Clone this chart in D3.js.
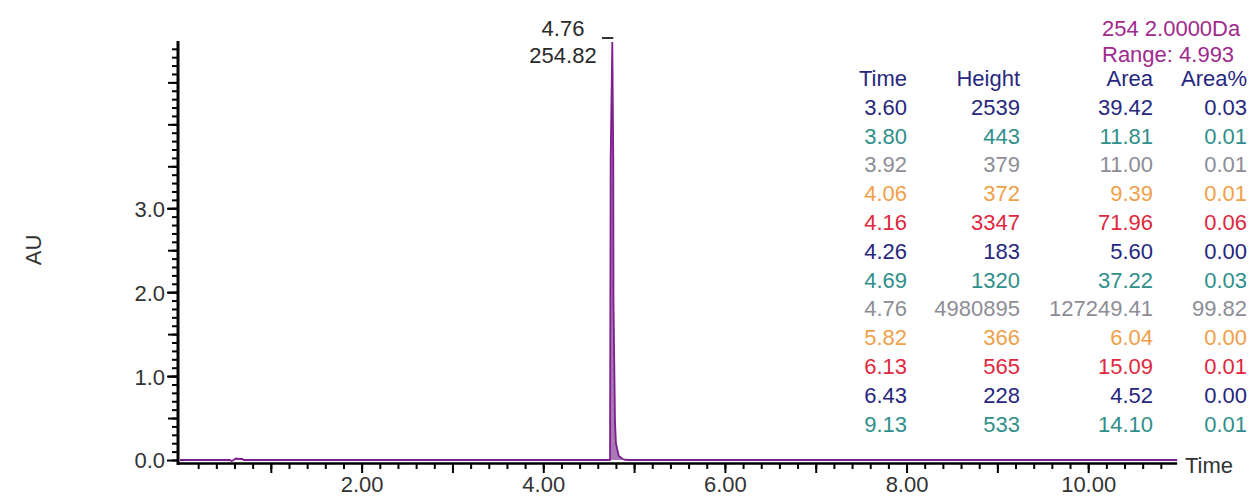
<!DOCTYPE html>
<html>
<head>
<meta charset="utf-8">
<script src="https://cdnjs.cloudflare.com/ajax/libs/d3/7.8.5/d3.min.js"></script>
<style>
  body { margin: 0; background: #fff; }
  svg text { font-family: Arial, "Liberation Sans", sans-serif; font-size: 22px; }
  .tick line { stroke: #000; stroke-width: 2; }
</style>
</head>
<body>
<div id="chart"></div>
<script>
// chromatogram trace (min, AU)
const traceTime = [0.00, 0.55, 0.57, 0.59, 0.615, 0.65, 0.69, 0.70, 4.70, 4.735, 4.742, 4.760, 4.771, 4.773, 4.790, 4.800, 4.830, 4.870, 4.900, 4.95, 10.98];
const traceAU   = [0.000, 0.000, -0.012, 0.000, 0.018, 0.014, 0.012, 0.000, 0.000, 0.002, 3.58, 4.98, 3.56, 1.90, 0.45, 0.20, 0.05, 0.015, 0.003, 0.000, 0.000];

// peak table
const peakTimes   = ['3.60', '3.80', '3.92', '4.06', '4.16', '4.26', '4.69', '4.76', '5.82', '6.13', '6.43', '9.13'];
const peakHeights = ['2539', '443', '379', '372', '3347', '183', '1320', '4980895', '366', '565', '228', '533'];
const peakAreas   = ['39.42', '11.81', '11.00', '9.39', '71.96', '5.60', '37.22', '127249.41', '6.04', '15.09', '4.52', '14.10'];
const peakAreaPct = ['0.03', '0.01', '0.01', '0.01', '0.06', '0.00', '0.03', '99.82', '0.00', '0.01', '0.00', '0.01'];
const tableHeader = ['Time', 'Height', 'Area', 'Area%'];
const rowColors   = ['#27277f', '#2f8f8b', '#8d8d96', '#f0a04a', '#e0283e'];

const channelInfo = ['254 2.0000Da', 'Range: 4.993'];
const apexLabel = ['4.76', '254.82'];

const yLabelTicks = [0, 1, 2, 3];
const xLabelTicks = [2, 4, 6, 8, 10];

const W = 1250, H = 499;
const svg = d3.select('#chart').append('svg')
    .attr('width', W)
    .attr('height', H);

const x = d3.scaleLinear().domain([0, 11]).range([180, 1179]);
const y = d3.scaleLinear().domain([0, 4.993]).range([460, 41]);

// y axis: minor, half and labelled ticks
const yMinor = d3.range(0, 4.95, 0.1).map(v => +v.toFixed(1));
const yHalf = d3.range(0.5, 5, 0.5);
svg.append('g').attr('transform', 'translate(177,0)')
    .call(d3.axisLeft(y).tickValues(yMinor).tickSize(5).tickFormat(''))
    .call(g => g.select('.domain').remove());
svg.append('g').attr('transform', 'translate(177,0)')
    .call(d3.axisLeft(y).tickValues(yHalf).tickSize(9).tickFormat(''))
    .call(g => g.select('.domain').remove());
svg.append('g').attr('transform', 'translate(177,0)')
    .call(d3.axisLeft(y).tickValues(yLabelTicks).tickSize(10).tickPadding(2).tickFormat(d3.format('.1f')))
    .call(g => g.select('.domain').remove())
    .call(g => g.selectAll('text').attr('fill', '#333').style('font-size', '22px').attr('dy', '0.36em'));

// x axis
const xMinor = d3.range(0.2, 11, 0.2).map(v => +v.toFixed(1));
const xMajor = d3.range(1, 11, 1);
svg.append('g').attr('transform', 'translate(0,464)')
    .call(d3.axisBottom(x).tickValues(xMinor).tickSize(5).tickFormat(''))
    .call(g => g.select('.domain').remove());
svg.append('g').attr('transform', 'translate(0,464)')
    .call(d3.axisBottom(x).tickValues(xMajor).tickSize(9).tickFormat(''))
    .call(g => g.select('.domain').remove());
svg.append('g').attr('transform', 'translate(0,464)')
    .call(d3.axisBottom(x).tickValues(xLabelTicks).tickSize(0).tickPadding(12).tickFormat(d3.format('.2f')))
    .call(g => g.select('.domain').remove())
    .call(g => g.selectAll('text').attr('fill', '#333').style('font-size', '22px'));

// axis lines
svg.append('line').attr('x1', 178).attr('x2', 178).attr('y1', 41).attr('y2', 465)
    .attr('stroke', '#000').attr('stroke-width', 3);
svg.append('line').attr('x1', 177).attr('x2', x(10.98)).attr('y1', 463.5).attr('y2', 463.5)
    .attr('stroke', '#000').attr('stroke-width', 2.5);

// trace
const pts = traceTime.map((t, i) => [t, traceAU[i]]);
svg.append('path')
    .datum(pts)
    .attr('fill', '#9a62a8')
    .attr('fill-opacity', 0.85)
    .attr('d', d3.area().x(d => x(d[0])).y0(y(0)).y1(d => y(d[1])));
svg.append('path')
    .datum(pts)
    .attr('fill', 'none')
    .attr('stroke', '#7d1f8c')
    .attr('stroke-width', 1.8)
    .attr('d', d3.line().x(d => x(d[0])).y(d => y(d[1])));

// apex marker and labels
svg.append('line').attr('x1', 602).attr('x2', x(4.76) + 1).attr('y1', 38).attr('y2', 38)
    .attr('stroke', '#333').attr('stroke-width', 2);
svg.selectAll('.apex').data(apexLabel).enter().append('text')
    .attr('x', 563)
    .attr('y', (d, i) => 36 + i * 27)
    .attr('text-anchor', 'middle')
    .attr('fill', '#2a2a2a')
    .text(d => d);

// axis titles
svg.append('text')
    .attr('transform', 'translate(41,250) rotate(-90)')
    .attr('text-anchor', 'middle')
    .attr('fill', '#333')
    .text('AU');
svg.append('text')
    .attr('x', 1185).attr('y', 473)
    .attr('fill', '#333')
    .text('Time');

// channel info, level with the apex labels
svg.selectAll('.info').data(channelInfo).enter().append('text')
    .attr('x', 1102)
    .attr('y', (d, i) => 36 + i * 26)
    .attr('fill', '#a02a8e')
    .text(d => d);

// peak table
const colRight = [907, 1020, 1153, 1247];
const tableCols = [peakTimes, peakHeights, peakAreas, peakAreaPct];
const rowY = i => 114.7 + i * 28.8;
tableHeader.forEach((h, c) => {
    svg.append('text')
        .attr('x', colRight[c]).attr('y', 86)
        .attr('text-anchor', 'end')
        .attr('fill', '#27277f')
        .text(h);
});
tableCols.forEach((col, c) => {
    svg.selectAll('.c' + c).data(col).enter().append('text')
        .attr('x', colRight[c])
        .attr('y', (d, i) => rowY(i))
        .attr('text-anchor', 'end')
        .attr('fill', (d, i) => rowColors[i % rowColors.length])
        .text(d => d);
});
</script>
</body>
</html>
